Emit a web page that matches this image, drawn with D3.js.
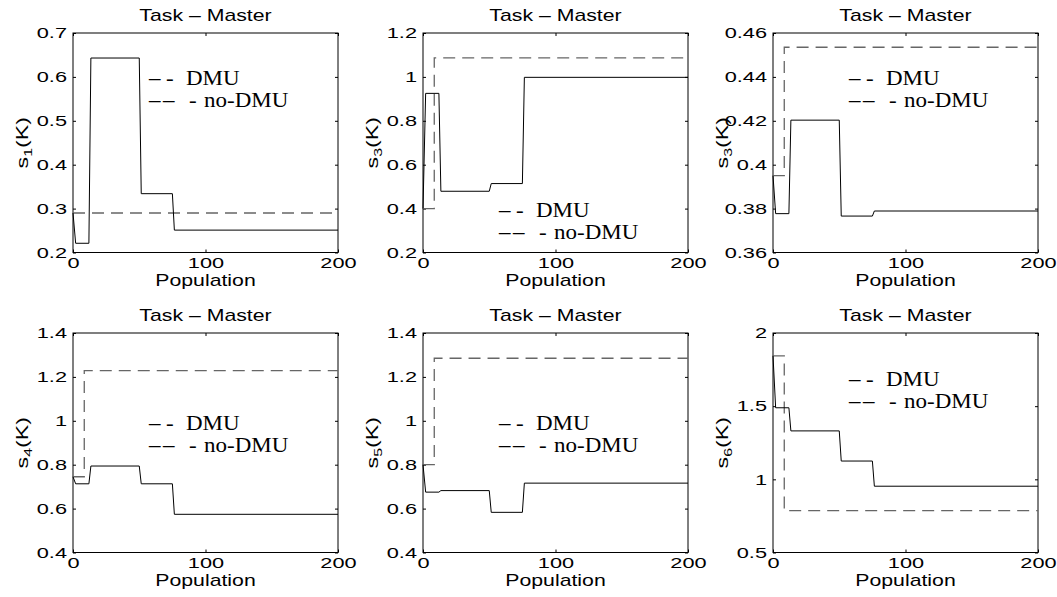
<!DOCTYPE html>
<html lang="en">
<head>
  <meta charset="UTF-8">
  <title>Task - Master</title>
  <style>
  body { margin: 0; background: #fff; }
  #paper { width: 1057px; height: 597px; }
  </style>
</head>
<body>
  <div id="paper"></div>
  <script src="https://cdn.jsdelivr.net/npm/d3@7"></script>
  <script>
    // population samples shared by the curves
    const popDmu = [0, 2, 12, 13.5, 50, 51.5, 75, 76.5, 200];
    const popNoDmu = [0, 8.5, 8.5, 200];
    const xTicks = [0, 100, 200];

    // s_k(K) values, one pair of series per panel
    const s1Dmu = [0.29, 0.221, 0.221, 0.643, 0.643, 0.334, 0.334, 0.251, 0.251];
    const s1NoDmu = [0.29, 0.29, 0.29, 0.29];
    const s2Dmu = [0.40, 0.925, 0.925, 0.479, 0.479, 0.514, 0.514, 0.998, 0.998];
    const s2NoDmu = [0.40, 0.40, 1.087, 1.087];
    const s3Dmu = [0.395, 0.3777, 0.3777, 0.4203, 0.4203, 0.3766, 0.3766, 0.3789, 0.3789];
    const s3NoDmu = [0.395, 0.395, 0.4535, 0.4535];
    const s4Dmu = [0.745, 0.713, 0.713, 0.794, 0.794, 0.713, 0.713, 0.574, 0.574];
    const s4NoDmu = [0.745, 0.745, 1.229, 1.229];
    const s5Dmu = [0.80, 0.675, 0.675, 0.682, 0.682, 0.583, 0.583, 0.716, 0.716];
    const s5NoDmu = [0.80, 0.80, 1.285, 1.285];
    const s6Dmu = [1.844, 1.489, 1.489, 1.331, 1.331, 1.125, 1.125, 0.953, 0.953];
    const s6NoDmu = [1.844, 1.844, 0.786, 0.786];

    // y tick labels per panel
    const yTicks1 = [0.2, 0.3, 0.4, 0.5, 0.6, 0.7];
    const yTicks2 = [0.2, 0.4, 0.6, 0.8, 1, 1.2];
    const yTicks3 = [0.36, 0.38, 0.4, 0.42, 0.44, 0.46];
    const yTicks4 = [0.4, 0.6, 0.8, 1, 1.2, 1.4];
    const yTicks5 = [0.4, 0.6, 0.8, 1, 1.2, 1.4];
    const yTicks6 = [0.5, 1, 1.5, 2];

    const subscripts = ['1', '3', '3', '4', '5', '6'];

    const panels = [
      {dmu: s1Dmu, no: s1NoDmu, ticks: yTicks1, left: 73, top: 33, leg: 52},
      {dmu: s2Dmu, no: s2NoDmu, ticks: yTicks2, left: 423, top: 33, leg: 184},
      {dmu: s3Dmu, no: s3NoDmu, ticks: yTicks3, left: 773, top: 33, leg: 52},
      {dmu: s4Dmu, no: s4NoDmu, ticks: yTicks4, left: 73, top: 333, leg: 97},
      {dmu: s5Dmu, no: s5NoDmu, ticks: yTicks5, left: 423, top: 333, leg: 97},
      {dmu: s6Dmu, no: s6NoDmu, ticks: yTicks6, left: 773, top: 333, leg: 53},
    ];

    const W = 265, H = 219.5;
    const SANS = 'Liberation Sans, Arial, sans-serif';
    const SERIF = 'Liberation Serif, Times New Roman, serif';
    const sxTick = 1.45, sxLab = 1.33, sxLeg = 1.15;

    const svg = d3.select('#paper').append('svg')
      .attr('width', 1057)
      .attr('height', 597)
      .style('background', '#fff');

    // text squeezed wider, like the source figure
    function wideText(parent, x, y, str, size, sx, anchor, rot) {
      const g = parent.append('g')
        .attr('transform', `translate(${x},${y})` + (rot ? ` rotate(${rot})` : '') + ` scale(${sx},1)`);
      return g.append('text')
        .attr('font-family', SANS)
        .attr('font-size', size)
        .attr('text-anchor', anchor || 'middle')
        .text(str);
    }

    panels.forEach((p, i) => {
      const x = d3.scaleLinear().domain([0, 200]).range([0, W]);
      const y = d3.scaleLinear().domain(d3.extent(p.ticks)).range([H, 0]);
      const g = svg.append('g').attr('transform', `translate(${p.left},${p.top})`);

      // axes, ticks pointing inward
      const bottom = g.append('g').attr('transform', `translate(0,${H})`)
        .call(d3.axisBottom(x).tickValues(xTicks).tickSizeInner(-3).tickSizeOuter(0).tickPadding(5));
      const left = g.append('g')
        .call(d3.axisLeft(y).tickValues(p.ticks).tickSizeInner(-3).tickSizeOuter(0).tickFormat(d3.format('~g')));
      g.append('g').call(d3.axisTop(x).tickValues(xTicks).tickSizeInner(-3).tickSizeOuter(0).tickFormat(''));
      g.append('g').attr('transform', `translate(${W},0)`)
        .call(d3.axisRight(y).tickValues(p.ticks).tickSizeInner(-3).tickSizeOuter(0).tickFormat(''));

      g.selectAll('.domain').remove();
      g.selectAll('.tick line').attr('stroke', '#000');
      g.selectAll('.tick text').attr('font-family', SANS).attr('font-size', 15).attr('fill', '#000');
      bottom.selectAll('.tick text').attr('transform', `scale(${sxTick},1)`);
      left.selectAll('.tick text').attr('x', -6 / sxTick).attr('transform', `scale(${sxTick},1)`);

      g.append('rect')
        .attr('x', 0).attr('y', 0).attr('width', W).attr('height', H)
        .attr('fill', 'none').attr('stroke', '#000').attr('stroke-width', 1);

      // curves
      const line = d3.line().x(d => x(d[0])).y(d => y(d[1]));
      g.append('path')
        .datum(d3.zip(popNoDmu, p.no))
        .attr('d', line)
        .attr('fill', 'none')
        .attr('stroke', '#666')
        .attr('stroke-width', 1.3)
        .attr('stroke-dasharray', '12,7');
      g.append('path')
        .datum(d3.zip(popDmu, p.dmu))
        .attr('d', line)
        .attr('fill', 'none')
        .attr('stroke', '#000')
        .attr('stroke-width', 1);

      // titles and labels
      wideText(g, W / 2, -12, 'Task \u2013 Master', 16, sxLab);
      wideText(g, W / 2, H + 33, 'Population', 16, sxLab);
      const yl = wideText(g, -45, H / 2, 's', 16, 1.45, 'middle', -90);
      yl.append('tspan').attr('font-size', 11).attr('dy', 4).text(subscripts[i]);
      yl.append('tspan').attr('dy', -4).text('(K)');

      // legend (text only, as in the figure)
      const leg = g.append('g')
        .attr('transform', `translate(76,${p.leg}) scale(${sxLeg},1)`)
        .attr('font-family', SERIF)
        .attr('font-size', 20)
        .attr('fill', '#000');
      const l1 = leg.append('text');
      l1.append('tspan').attr('x', 0).text('\u2013');
      l1.append('tspan').attr('x', 17 / sxLeg).text('-');
      l1.append('tspan').attr('x', 37 / sxLeg).text('DMU');
      const l2 = leg.append('text').attr('y', 22);
      l2.append('tspan').attr('x', 0).text('\u2013');
      l2.append('tspan').attr('x', 14 / sxLeg).text('\u2013');
      l2.append('tspan').attr('x', 40 / sxLeg).text('-');
      l2.append('tspan').attr('x', 55 / sxLeg).text('no-DMU');
    });
  </script>
</body>
</html>
